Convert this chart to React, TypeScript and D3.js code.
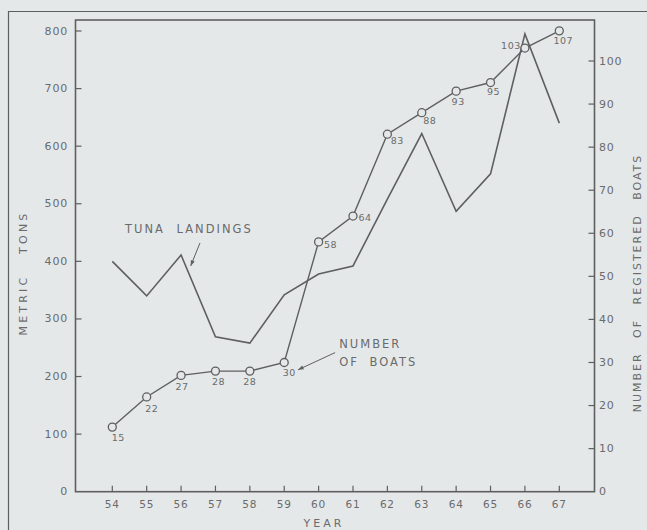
import React from "react";
import * as d3 from "d3";

const years = [54, 55, 56, 57, 58, 59, 60, 61, 62, 63, 64, 65, 66, 67];
const tunaLandings = [400, 340, 411, 269, 258, 342, 378, 392, 508, 622, 487, 552, 795, 640];
const boats = [15, 22, 27, 28, 28, 30, 58, 64, 83, 88, 93, 95, 103, 107];
const leftTicks = [0, 100, 200, 300, 400, 500, 600, 700, 800];
const rightTicks = [0, 10, 20, 30, 40, 50, 60, 70, 80, 90, 100];

// label placement offsets (layout only) for boat value labels
const boatLabelOffsets: [number, number][] = [
  [6, 10], [5, 12], [1, 11], [3, 10], [0, 10], [5, 10], [12, 3],
  [12, 1], [10, 6], [8, 8], [2, 10], [3, 9], [-14, -3], [4, 10],
];

const W = 647;
const H = 530;
const frame = { left: 75.5, right: 594.5, top: 20, bottom: 491.7 };
const ink = "#5e5f60";
const textInk = "#6a6b6c";
const bg = "#e5e8e9";
const font = "'DejaVu Sans', Verdana, sans-serif";

export default function App() {
  const x = d3.scaleLinear().domain([54, 67]).range([112.3, 559.3]);
  const yL = d3.scaleLinear().domain([0, 800]).range([frame.bottom, 31]);
  const yR = d3.scaleLinear().domain([0, 100]).range([frame.bottom, 61]);

  const tunaLine = d3
    .line<number>()
    .x((_, i) => x(years[i]))
    .y((d) => yL(d));
  const boatLine = d3
    .line<number>()
    .x((_, i) => x(years[i]))
    .y((d) => yR(d));

  const arrow = (x1: number, y1: number, x2: number, y2: number, key: string) => {
    const ang = Math.atan2(y2 - y1, x2 - x1);
    const len = 6;
    const spread = 0.35;
    const p1 = [x2 - len * Math.cos(ang - spread), y2 - len * Math.sin(ang - spread)];
    const p2 = [x2 - len * Math.cos(ang + spread), y2 - len * Math.sin(ang + spread)];
    return (
      <g key={key}>
        <line x1={x1} y1={y1} x2={x2} y2={y2} stroke={ink} strokeWidth={1} />
        <path d={`M${x2},${y2}L${p1[0]},${p1[1]}L${p2[0]},${p2[1]}Z`} fill={ink} />
      </g>
    );
  };

  return (
    <svg
      width={W}
      height={H}
      style={{ position: "absolute", left: 0, top: 0, display: "block", background: bg }}
      fontFamily={font}
    >
      <rect x={0} y={0} width={W} height={H} fill={bg} />
      {/* outer border */}
      <path d={`M8.5,${H}V11.5H${W}`} fill="none" stroke={ink} strokeWidth={1.2} />

      {/* plot frame */}
      <rect
        x={frame.left}
        y={frame.top}
        width={frame.right - frame.left}
        height={frame.bottom - frame.top}
        fill="none"
        stroke={ink}
        strokeWidth={1.6}
      />

      {/* left axis ticks */}
      {leftTicks.map((t) => (
        <g key={"l" + t}>
          {t > 0 && (
            <line x1={frame.left} x2={frame.left + 6} y1={yL(t)} y2={yL(t)} stroke={ink} strokeWidth={1.2} />
          )}
          <text
            x={68}
            y={yL(t)}
            textAnchor="end"
            dominantBaseline="central"
            fontSize={11}
            letterSpacing={0.8}
            fill={textInk}
          >
            {t}
          </text>
        </g>
      ))}

      {/* right axis ticks */}
      {rightTicks.map((t) => (
        <g key={"r" + t}>
          {t > 0 && (
            <line x1={frame.right - 6} x2={frame.right} y1={yR(t)} y2={yR(t)} stroke={ink} strokeWidth={1.2} />
          )}
          <text
            x={599}
            y={yR(t)}
            textAnchor="start"
            dominantBaseline="central"
            fontSize={11}
            letterSpacing={0.8}
            fill={textInk}
          >
            {t}
          </text>
        </g>
      ))}

      {/* bottom axis ticks */}
      {years.map((yr) => (
        <g key={"x" + yr}>
          <line x1={x(yr)} x2={x(yr)} y1={frame.bottom} y2={frame.bottom - 6} stroke={ink} strokeWidth={1.2} />
          <text
            x={x(yr)}
            y={503.5}
            textAnchor="middle"
            dominantBaseline="central"
            fontSize={10.5}
            letterSpacing={0.8}
            fill={textInk}
          >
            {yr}
          </text>
        </g>
      ))}

      {/* axis titles */}
      <text
        x={324}
        y={523}
        textAnchor="middle"
        dominantBaseline="central"
        fontSize={11}
        letterSpacing={3}
        fill={textInk}
      >
        YEAR
      </text>
      <text
        transform={`translate(23,273) rotate(-90)`}
        textAnchor="middle"
        dominantBaseline="central"
        fontSize={11}
        letterSpacing={3.2}
        wordSpacing={14}
        fill={textInk}
      >
        METRIC TONS
      </text>
      <text
        transform={`translate(637,283) rotate(-90)`}
        textAnchor="middle"
        dominantBaseline="central"
        fontSize={11}
        letterSpacing={2}
        wordSpacing={9}
        fill={textInk}
      >
        NUMBER OF REGISTERED BOATS
      </text>

      {/* tuna landings line */}
      <path d={tunaLine(tunaLandings) || ""} fill="none" stroke={ink} strokeWidth={1.6} strokeLinejoin="miter" />

      {/* boats line */}
      <path d={boatLine(boats) || ""} fill="none" stroke={ink} strokeWidth={1.4} />
      {boats.map((b, i) => (
        <g key={"b" + i}>
          <circle cx={x(years[i])} cy={yR(b)} r={4} fill={bg} stroke={ink} strokeWidth={1.3} />
          <text
            x={x(years[i]) + boatLabelOffsets[i][0]}
            y={yR(b) + boatLabelOffsets[i][1]}
            textAnchor="middle"
            dominantBaseline="central"
            fontSize={9.5}
            letterSpacing={0.5}
            fill={textInk}
          >
            {b}
          </text>
        </g>
      ))}

      {/* annotations */}
      <text
        x={x(54.37)}
        y={yL(456)}
        dominantBaseline="central"
        fontSize={11.5}
        letterSpacing={2}
        wordSpacing={6}
        fill={textInk}
      >
        TUNA LANDINGS
      </text>
      {arrow(x(56.55), yL(432), x(56.28), yL(392), "a1")}

      <text x={x(60.6)} y={yR(34.3)} dominantBaseline="central" fontSize={11.5} letterSpacing={2} fill={textInk}>
        NUMBER
      </text>
      <text
        x={x(60.6)}
        y={yR(30.2)}
        dominantBaseline="central"
        fontSize={11.5}
        letterSpacing={2}
        wordSpacing={5}
        fill={textInk}
      >
        OF BOATS
      </text>
      {arrow(x(60.48), yR(32.3), x(59.4), yR(28.3), "a2")}
    </svg>
  );
}
